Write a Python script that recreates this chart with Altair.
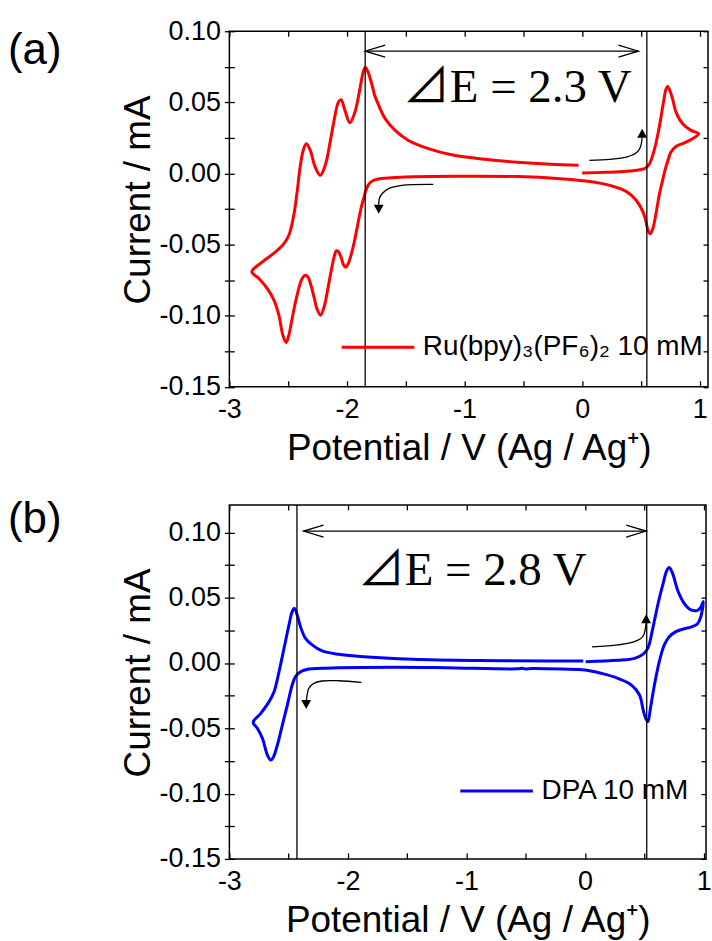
import altair as alt
import pandas as pd

FONT = "Liberation Sans"
SERIF = "Liberation Serif, Noto Sans CJK JP"

# ---------------- data ----------------
# Ru(bpy)3(PF6)2 10 mM cyclic voltammogram, points in scan order
ru_potential = [
    0.000, 0.200, 0.377, 0.489, 0.540, 0.573, 0.616, 0.658, 0.691, 0.712, 0.727, 0.745, 0.770, 0.798, 0.854, 0.925, 0.990,
    0.938, 0.870, 0.798, 0.755, 0.725, 0.700, 0.678, 0.658, 0.630, 0.601, 0.579, 0.560, 0.540, 0.517, 0.461, 0.377, 0.236, 0.096,
    -0.185, -0.550, -1.100, -1.500, -1.650, -1.764, -1.810, -1.835, -1.856, -1.876, -1.904, -1.932, -1.961, -1.989, -2.011,
    -2.030, -2.050, -2.073, -2.090, -2.110, -2.135, -2.157, -2.194, -2.225, -2.256, -2.280, -2.305, -2.332, -2.354, -2.382,
    -2.424, -2.466, -2.494, -2.517, -2.545, -2.579, -2.621, -2.677, -2.747, -2.809,
    -2.719, -2.607, -2.536, -2.494, -2.452, -2.424, -2.396, -2.368, -2.345, -2.312, -2.270, -2.227, -2.185, -2.143, -2.107,
    -2.073, -2.050, -2.017, -1.975, -1.932, -1.890, -1.862, -1.843, -1.815, -1.786, -1.764, -1.730, -1.674, -1.590, -1.477,
    -1.308, -1.112, -0.831, -0.550, -0.269, -0.031,
]
ru_current = [
    0.0003, 0.0008, 0.0015, 0.0026, 0.0038, 0.0068, 0.0174, 0.0338, 0.0501, 0.0590, 0.0612, 0.0585, 0.0520, 0.0431, 0.0349, 0.0303, 0.0279,
    0.0244, 0.0215, 0.0190, 0.0150, 0.0080, 0.0010, -0.0070, -0.0140, -0.0271, -0.0388, -0.0425, -0.0400, -0.0330, -0.0270, -0.0190, -0.0128, -0.0084, -0.0060,
    -0.0037, -0.0022, -0.0020, -0.0025, -0.0032, -0.0045, -0.0070, -0.0110, -0.0170, -0.0230, -0.0341, -0.0459, -0.0560, -0.0634, -0.0660,
    -0.0640, -0.0590, -0.0550, -0.0545, -0.0590, -0.0690, -0.0786, -0.0938, -0.0997, -0.0950, -0.0870, -0.0790, -0.0728, -0.0716, -0.0740,
    -0.0856, -0.1020, -0.1137, -0.1189, -0.1137, -0.0997, -0.0891, -0.0810, -0.0740, -0.0692,
    -0.0622, -0.0552, -0.0494, -0.0435, -0.0294, -0.0131, 0.0057, 0.0174, 0.0209, 0.0162, 0.0045, -0.0013, 0.0057, 0.0221, 0.0384,
    0.0501, 0.0518, 0.0443, 0.0356, 0.0431, 0.0595, 0.0712, 0.0747, 0.0700, 0.0619, 0.0548, 0.0478, 0.0384, 0.0303, 0.0232,
    0.0174, 0.0131, 0.0099, 0.0078, 0.0064, 0.0057,
]

# DPA 10 mM cyclic voltammogram, points in scan order
dpa_potential = [
    0.005, 0.277, 0.417, 0.487, 0.529, 0.571, 0.613, 0.655, 0.691, 0.710, 0.738, 0.780, 0.836, 0.892, 0.947, 0.975, 0.997,
    0.975, 0.947, 0.892, 0.836, 0.766, 0.710, 0.668, 0.626, 0.585, 0.551, 0.530, 0.510, 0.490, 0.459, 0.389, 0.277, 0.138,
    0.000, -0.197, -0.448, -0.500, -0.530, -0.570, -1.174, -1.600, -2.079, -2.218, -2.330, -2.400, -2.442, -2.470, -2.511,
    -2.553, -2.595, -2.631, -2.651, -2.679, -2.721, -2.763, -2.799,
    -2.735, -2.665, -2.623, -2.581, -2.539, -2.497, -2.470, -2.450, -2.428, -2.400, -2.358, -2.302, -2.218, -2.079, -1.900,
    -1.453, -0.895, -0.336, -0.015,
]
dpa_current = [
    0.0010, 0.0020, 0.0035, 0.0066, 0.0112, 0.0265, 0.0444, 0.0597, 0.0712, 0.0730, 0.0686, 0.0559, 0.0456, 0.0406, 0.0402, 0.0425, 0.0470,
    0.0350, 0.0298, 0.0275, 0.0262, 0.0240, 0.0201, 0.0138, 0.0010, -0.0168, -0.0348, -0.0449, -0.0420, -0.0360, -0.0245, -0.0168, -0.0118, -0.0080,
    -0.0054, -0.0047, -0.0043, -0.0046, -0.0040, -0.0045, -0.0036, -0.0032, -0.0036, -0.0041, -0.0046, -0.0067, -0.0105, -0.0169, -0.0322,
    -0.0475, -0.0628, -0.0725, -0.0743, -0.0705, -0.0577, -0.0501, -0.0455,
    -0.0386, -0.0296, -0.0220, -0.0067, 0.0112, 0.0291, 0.0393, 0.0418, 0.0367, 0.0278, 0.0188, 0.0138, 0.0092, 0.0066, 0.0050,
    0.0028, 0.0018, 0.0015, 0.0015,
]

# onset potentials (V) marked by vertical guides
ru_onsets = [-1.845, 0.55]
dpa_onsets = [-2.43, 0.52]

# double-headed window arrow: ends (V) and current level (mA)
ru_window = [-1.845, 0.478]
ru_window_level = 0.086
dpa_window = [-2.374, 0.515]
dpa_window_level = 0.101

# potential-window annotation and its anchor (V, mA)
ru_gap_text = "⊿E = 2.3 V"
ru_gap_at = (-0.552, 0.050)
dpa_gap_text = "⊿E = 2.8 V"
dpa_gap_at = (-0.952, 0.060)

# scan-direction arrows: shaft path (V, mA) and tip (V, mA, direction)
ru_sweeps = {
    "anodic": ([0.062, 0.236, 0.377, 0.461, 0.495, 0.509], [0.0092, 0.0099, 0.0115, 0.0145, 0.0185, 0.0251]),
    "cathodic": ([-1.266, -1.533, -1.646, -1.702, -1.725, -1.730], [-0.0077, -0.0084, -0.0107, -0.0143, -0.0178, -0.0220]),
}
ru_tips = [(0.510, 0.0314, "up"), (-1.730, -0.0283, "down")]
dpa_sweeps = {
    "anodic": ([0.059, 0.277, 0.417, 0.487, 0.509, 0.514], [0.0123, 0.0138, 0.0163, 0.0201, 0.0265, 0.0303]),
    "cathodic": ([-1.886, -2.079, -2.219, -2.288, -2.330, -2.344, -2.350],
                 [-0.0149, -0.0136, -0.0138, -0.0156, -0.0195, -0.0245, -0.0283]),
}
dpa_tips = [(0.515, 0.0372, "up"), (-2.352, -0.0352, "down")]

# axis ticks
x_ticks = [-3.0, -2.5, -2.0, -1.5, -1.0, -0.5, 0.0, 0.5, 1.0]
y_ticks = [-0.15, -0.125, -0.10, -0.075, -0.05, -0.025, 0.0, 0.025, 0.05, 0.075, 0.10]

X_LABELS = "datum.value % 1 == 0 ? replace(format(datum.value, 'd'), '−', '-') : ''"
Y_LABELS = ("abs(round(datum.value * 1000)) % 50 == 0 ? "
            "replace(format(datum.value, '.2f'), '−', '-') : ''")

# symbol paths (tip at the anchor point)
OPEN_LEFT = "M1,-0.3L0,0L1,0.3"
OPEN_RIGHT = "M-1,-0.3L0,0L-1,0.3"
HEAD_UP = "M0,0L-0.55,1L0.55,1Z"
HEAD_DOWN = "M0,0L-0.55,-1L0.55,-1Z"


def bottom_axis():
    return alt.Axis(orient="bottom", values=x_ticks, labelExpr=X_LABELS,
                    title="Potential / V (Ag / Ag⁺)", offset=-6, tickSize=6,
                    labelPadding=10, titlePadding=8)


def top_axis():
    return alt.Axis(orient="top", values=x_ticks, labels=False, title=None,
                    offset=-5, tickSize=5)


def left_axis(h):
    return alt.Axis(orient="left", values=y_ticks, labelExpr=Y_LABELS,
                    title="Current / mA", offset=-5, tickSize=10,
                    labelPadding=4, titlePadding=2, titleY=h / 2 - 9.5)


def right_axis():
    return alt.Axis(orient="right", values=y_ticks, labels=False, title=None,
                    offset=-5, tickSize=5)


def panel(tag, tag_y, series, color, E, I, x_max, y_max, width, height,
          onsets, window, window_level, gap_text, gap_at, sweeps, tips,
          legend_x, legend_y):
    xs = alt.Scale(domain=[-3, x_max], nice=False, zero=False)
    ys = alt.Scale(domain=[-0.15, y_max], nice=False, zero=False)

    def xq(field, axis=None):
        return alt.X(field, type="quantitative", scale=xs, axis=axis)

    def yq(field, axis=None):
        return alt.Y(field, type="quantitative", scale=ys, axis=axis)

    cv = pd.DataFrame({"E": E, "I": I, "step": list(range(len(E))), "series": series})
    curve = alt.Chart(cv).mark_line(strokeWidth=3, interpolate="catmull-rom").encode(
        x=xq("E", bottom_axis()),
        y=yq("I", left_axis(height)),
        order=alt.Order("step:Q"),
        color=alt.Color(
            "series:N",
            scale=alt.Scale(domain=[series], range=[color]),
            legend=alt.Legend(orient="none", legendX=legend_x, legendY=legend_y, title=None,
                              symbolType="stroke", symbolSize=5300, symbolStrokeWidth=3,
                              labelFont=FONT, labelFontSize=28, labelColor="black",
                              labelOffset=7, labelLimit=600, padding=0),
        ),
    )

    guides = alt.Chart(pd.DataFrame({"E": onsets})).mark_rule(
        color="black", strokeWidth=1.3).encode(x=xq("E"))

    shaft = alt.Chart(pd.DataFrame({"E0": [window[0]], "E1": [window[1]], "I": [window_level]})).mark_rule(
        color="black", strokeWidth=1.3).encode(x=xq("E0"), x2="E1", y=yq("I"))

    left_end = alt.Chart(pd.DataFrame({"E": [window[0]], "I": [window_level]})).mark_point(
        shape=OPEN_LEFT, filled=False, color="black", strokeWidth=1.3, size=1600, opacity=1
    ).encode(x=xq("E"), y=yq("I"))
    right_end = alt.Chart(pd.DataFrame({"E": [window[1]], "I": [window_level]})).mark_point(
        shape=OPEN_RIGHT, filled=False, color="black", strokeWidth=1.3, size=1600, opacity=1
    ).encode(x=xq("E"), y=yq("I"))

    rows = []
    for name, (es, cs) in sweeps.items():
        for k, (e, c) in enumerate(zip(es, cs)):
            rows.append({"arrow": name, "k": k, "E": e, "I": c})
    sweep = alt.Chart(pd.DataFrame(rows)).mark_line(
        color="black", strokeWidth=1.3, interpolate="catmull-rom").encode(
        x=xq("E", top_axis()), y=yq("I", right_axis()),
        detail="arrow:N", order=alt.Order("k:Q"))

    up = [t for t in tips if t[2] == "up"]
    down = [t for t in tips if t[2] == "down"]
    head_up = alt.Chart(pd.DataFrame({"E": [t[0] for t in up], "I": [t[1] for t in up]})).mark_point(
        shape=HEAD_UP, filled=True, color="black", size=324, opacity=1).encode(x=xq("E"), y=yq("I"))
    head_down = alt.Chart(pd.DataFrame({"E": [t[0] for t in down], "I": [t[1] for t in down]})).mark_point(
        shape=HEAD_DOWN, filled=True, color="black", size=324, opacity=1).encode(x=xq("E"), y=yq("I"))

    gap = alt.Chart(pd.DataFrame({"E": [gap_at[0]], "I": [gap_at[1]], "text": [gap_text]})).mark_text(
        font=SERIF, fontSize=47, color="black", align="center", baseline="alphabetic"
    ).encode(x=xq("E"), y=yq("I"), text="text:N")

    tag_mark = alt.Chart(pd.DataFrame({"tag": [tag]})).mark_text(
        font=FONT, fontSize=44, color="black", align="left", baseline="middle"
    ).encode(x=alt.value(-222), y=alt.value(tag_y), text="tag:N")

    return alt.layer(
        curve, guides, shaft, left_end, right_end, sweep, head_up, head_down, gap, tag_mark
    ).properties(width=width, height=height).resolve_axis(x="independent", y="independent")


panel_a = panel("(a)", 19.5, "Ru(bpy)₃(PF₆)₂ 10 mM", "#ff0000", ru_potential, ru_current,
                1.07, 0.10, 480, 356.5, ru_onsets, ru_window, ru_window_level,
                ru_gap_text, ru_gap_at, ru_sweeps, ru_tips, 111, 279)
panel_b = panel("(b)", 15.3, "DPA 10 mM", "#0000ff", dpa_potential, dpa_current,
                1.02, 0.121, 478, 355, dpa_onsets, dpa_window, dpa_window_level,
                dpa_gap_text, dpa_gap_at, dpa_sweeps, dpa_tips, 230, 249)

chart = (
    alt.vconcat(panel_a, panel_b, spacing=118, bounds="flush")
    .resolve_scale(color="independent")
    .resolve_legend(color="independent")
    .properties(padding={"top": 15, "left": 7, "right": 0, "bottom": 0})
    .configure_view(stroke="black", strokeWidth=1.5)
    .configure_axis(labelFont=FONT, labelFontSize=27, labelColor="black",
                    titleFont=FONT, titleFontSize=37, titleFontWeight="normal", titleColor="black",
                    tickColor="black", tickWidth=1.3, domain=False, grid=False,
                    labelFlush=False, labelOverlap=False)
)

chart.save("out.html", embed_options={"renderer": "svg", "actions": False})
